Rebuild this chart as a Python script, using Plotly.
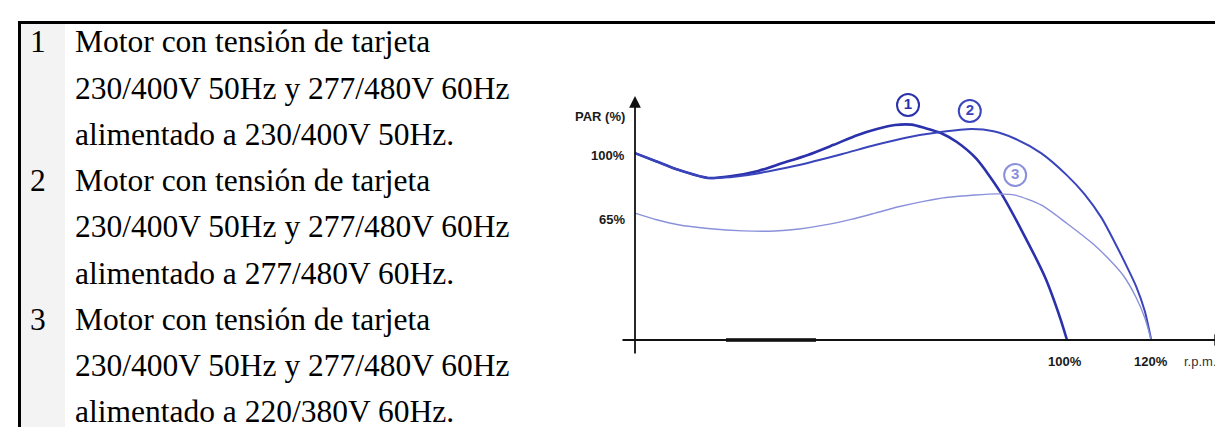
import plotly.graph_objects as go

# ---- data ----
legend_numbers = ["1", "2", "3"]
legend_lines = [
    ["Motor con tensión de tarjeta", "230/400V 50Hz y 277/480V 60Hz", "alimentado a 230/400V 50Hz."],
    ["Motor con tensión de tarjeta", "230/400V 50Hz y 277/480V 60Hz", "alimentado a 277/480V 60Hz."],
    ["Motor con tensión de tarjeta", "230/400V 50Hz y 277/480V 60Hz", "alimentado a 220/380V 60Hz."],
]

# speed (% of nominal r.p.m.) and torque (PAR, %)
c1_x = [0, 5, 10, 16.9, 22, 28.5, 34, 40, 46, 51.6, 56, 60.2, 64, 67.1, 70.8, 74.5, 79, 84.7, 90, 95, 98.4, 100]
c1_y = [101, 96.5, 92, 87.6, 88.5, 91.4, 95.5, 100, 105.5, 110.8, 114, 116.2, 116.4, 114.6, 111.9, 107, 98, 79.5, 57, 33.5, 12, 0]

c2_x = [0, 5, 10, 16.9, 22, 26.2, 33, 40, 48, 55.6, 63, 70.8, 78, 83, 88, 94, 100, 104, 108, 111, 114, 116, 118, 119.5]
c2_y = [101, 96.5, 92, 87.6, 88, 89.2, 92.2, 95.7, 100.5, 105.4, 109.5, 112.4, 114, 112.8, 108.8, 101, 89, 79, 66, 53, 39, 29, 15.7, 0]

c3_x = [0, 5, 10, 16.9, 25, 32.4, 38, 44, 50, 55.6, 61, 67.1, 72, 78.7, 84, 88, 94, 100, 106, 110, 113, 116, 118, 119.5]
c3_y = [68.6, 65, 62.3, 60.3, 59, 58.9, 60, 62.2, 65.2, 68.6, 72, 75.1, 77, 78.4, 79, 78.3, 73, 63, 52, 43, 35, 23, 12, 0]

curve_labels = ["1", "2", "3"]
label_x = [63.2, 77.5, 88]
label_y = [127, 123.8, 89.2]

y_tick_vals = [100, 65]
y_tick_text = ["100%", "65%"]
x_tick_vals = [99.5, 119.4]
x_tick_text = ["100%", "120%"]
y_title = "PAR (%)"
x_title = "r.p.m."

colors = ["#2a31ab", "#3b45bb", "#8a91da"]
widths = [2.6, 2.0, 1.4]

# ---- pixel mapping of the canvas (whole canvas = plot area) ----
W, H = 1223, 427
X0_PX, X_PER = 627, 4.32    # x=0 at pixel 627, 4.32 px per %
Y0_PX, Y_PER = 332, 1.85    # y=0 at pixel 332, 1.85 px per %

def dx(px):
    return (px - X0_PX) / X_PER

def dy(py):
    return (Y0_PX - py) / Y_PER

fig = go.Figure()

for xs, ys, col, w in zip([c1_x, c2_x, c3_x], [c1_y, c2_y, c3_y], colors, widths):
    fig.add_trace(go.Scatter(x=xs, y=ys, mode="lines",
                             line=dict(color=col, width=w, shape="spline", smoothing=0.7),
                             hoverinfo="skip", showlegend=False))

# circled curve numbers
for t, lx, ly, col in zip(curve_labels, label_x, label_y, colors):
    fig.add_trace(go.Scatter(x=[lx], y=[ly], mode="markers+text", text=[t],
                             textposition="middle center",
                             textfont=dict(family="Liberation Sans", size=15, color=col, weight="bold"),
                             marker=dict(symbol="circle-open", size=22, color=col,
                                         line=dict(width=2, color=col)),
                             hoverinfo="skip", showlegend=False, cliponaxis=False))

shapes = []
annotations = []

# frame: top border, left border, grey number column
shapes.append(dict(type="rect", xref="paper", yref="paper", x0=13 / W, x1=57 / W,
                   y0=0, y1=1 - 16 / H, fillcolor="#f3f3f3", line=dict(width=0), layer="below"))
shapes.append(dict(type="rect", xref="paper", yref="paper", x0=10 / W, x1=1,
                   y0=1 - 16 / H, y1=1 - 13 / H, fillcolor="black", line=dict(width=0)))
shapes.append(dict(type="rect", xref="paper", yref="paper", x0=10 / W, x1=13 / W,
                   y0=0, y1=1 - 13 / H, fillcolor="black", line=dict(width=0)))

# legend text
line_gap = 46.2
first_mid = 34
serif = dict(family="Liberation Serif", size=31.5, color="black")
for i, (num, lines) in enumerate(zip(legend_numbers, legend_lines)):
    for j, txt in enumerate(lines):
        ypx = first_mid + (i * 3 + j) * line_gap
        annotations.append(dict(xref="paper", yref="paper", x=66 / W, y=1 - ypx / H,
                                xanchor="left", yanchor="middle", text=txt, showarrow=False,
                                font=serif, borderpad=0))
        if j == 0:
            annotations.append(dict(xref="paper", yref="paper", x=30 / W, y=1 - ypx / H,
                                    xanchor="center", yanchor="middle", text=num, showarrow=False,
                                    font=serif, borderpad=0))

# axes with arrows
annotations.append(dict(x=0, y=dy(88), ax=0, ay=dy(347), xref="x", yref="y", axref="x", ayref="y",
                        text="", showarrow=True, arrowhead=2, arrowsize=1.3, arrowwidth=1.8,
                        arrowcolor="#111111", standoff=0, startstandoff=0))
annotations.append(dict(x=dx(1218), y=0, ax=dx(613), ay=0, xref="x", yref="y", axref="x", ayref="y",
                        text="", showarrow=True, arrowhead=2, arrowsize=1.3, arrowwidth=1.8,
                        arrowcolor="#111111", standoff=0, startstandoff=0))
# darker scan segment on the speed axis
shapes.append(dict(type="line", xref="x", yref="y", x0=dx(718), x1=dx(808), y0=0, y1=0,
                   line=dict(color="black", width=3.5)))

tick_font = dict(family="Liberation Sans", size=13, color="#1a1a1a", weight="bold")
for v, t in zip(y_tick_vals, y_tick_text):
    annotations.append(dict(x=dx(619), y=v, xref="x", yref="y", xanchor="right", yanchor="middle",
                            text=t, showarrow=False, font=tick_font))
annotations.append(dict(x=dx(619), y=dy(108), xref="x", yref="y", xanchor="right", yanchor="middle",
                        text=y_title, showarrow=False, font=tick_font))
for v, t in zip(x_tick_vals, x_tick_text):
    annotations.append(dict(x=v, y=dy(353), xref="x", yref="y", xanchor="center", yanchor="middle",
                            text=t, showarrow=False, font=tick_font))
annotations.append(dict(x=dx(1174), y=dy(353), xref="x", yref="y", xanchor="left", yanchor="middle",
                        text=x_title, showarrow=False,
                        font=dict(family="Liberation Sans", size=13, color="#333333")))

fig.update_layout(
    width=W, height=H, margin=dict(l=0, r=0, t=0, b=0),
    paper_bgcolor="white", plot_bgcolor="white",
    xaxis=dict(range=[dx(0), dx(W)], domain=[0, 1], visible=False, fixedrange=True),
    yaxis=dict(range=[dy(H), dy(0)], domain=[0, 1], visible=False, fixedrange=True),
    shapes=shapes, annotations=annotations, showlegend=False,
)

fig.write_html("out.html")
